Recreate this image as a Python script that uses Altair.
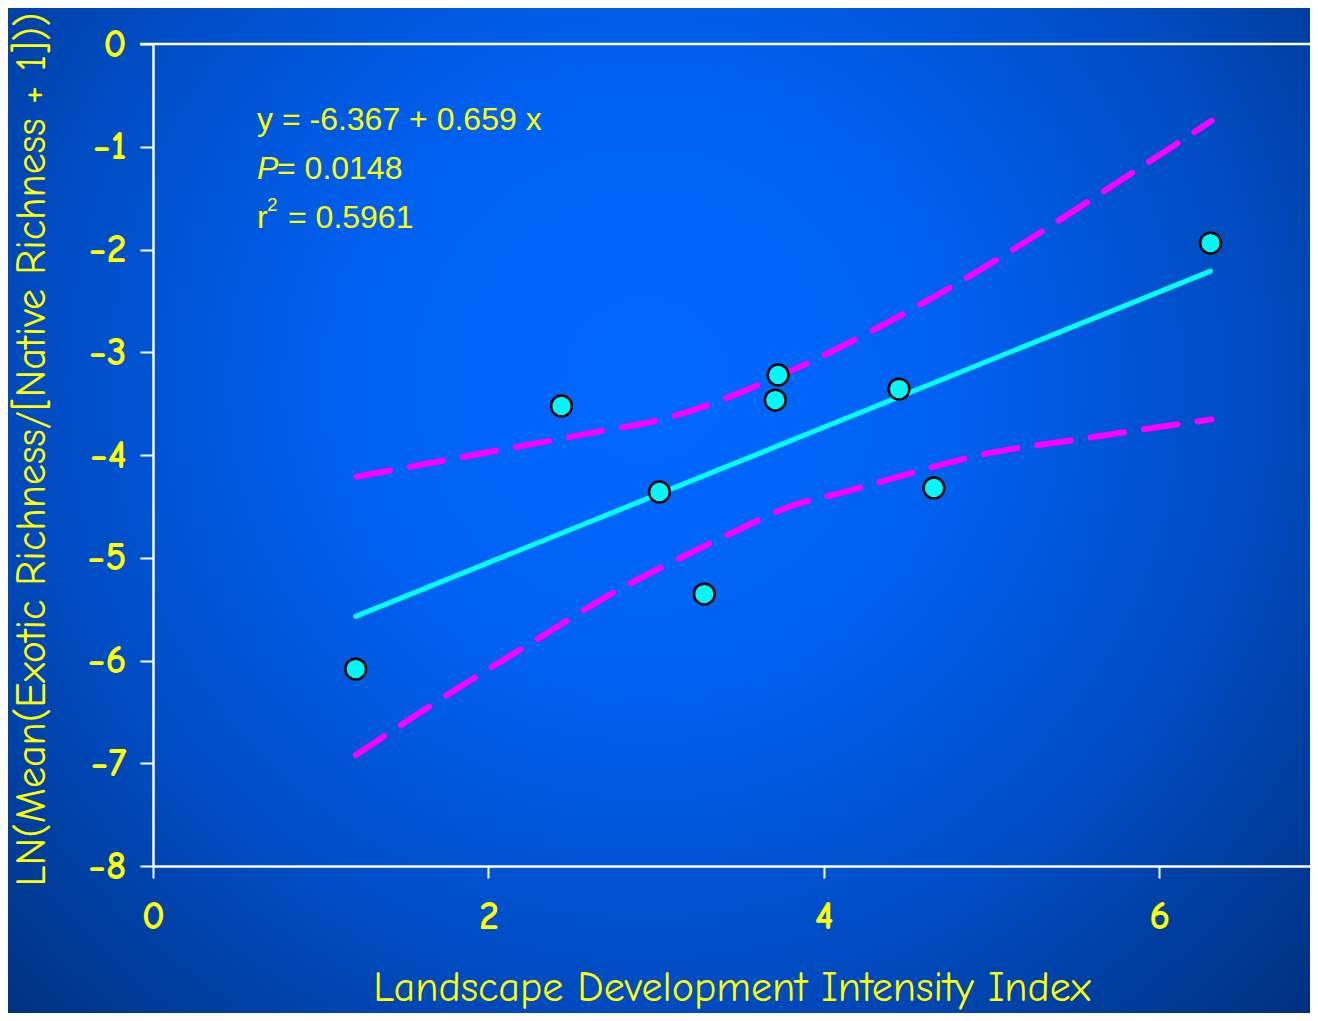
import altair as alt
import pandas as pd

# Observed sites
ldi = [1.209, 2.436, 3.020, 3.288, 3.711, 3.728, 4.449, 4.657, 6.307]
ln_ratio = [-6.083, -3.523, -4.360, -5.353, -3.465, -3.221, -3.358, -4.321, -1.937]

# Fitted regression line (end points)
fit_x = [1.209, 6.307]
fit_y = [-5.570, -2.211]

# Upper 95% confidence band
upper_x = [1.213, 1.489, 2.662, 3.020, 3.734, 4.449, 5.045, 5.599, 6.313]
upper_y = [-4.211, -4.128, -3.770, -3.659, -3.231, -2.650, -2.086, -1.509, -0.747]

# Lower 95% confidence band
lower_x = [1.209, 1.489, 1.769, 2.245, 2.799, 3.079, 3.454, 3.853, 4.014, 4.747, 4.848, 5.599, 6.313]
lower_y = [-6.920, -6.618, -6.320, -5.839, -5.291, -5.055, -4.757, -4.470, -4.405, -4.075, -4.032, -3.828, -3.653]

x_ticks = [0, 2, 4, 6]
y_ticks = [0, -1, -2, -3, -4, -5, -6, -7, -8]

W, H = 1157, 822
PAD = {"left": 145, "top": 36, "right": 0, "bottom": 147}

pts = pd.DataFrame({"x": ldi, "y": ln_ratio})
fit = pd.DataFrame({"x": fit_x, "y": fit_y})
up = pd.DataFrame({"x": upper_x, "y": upper_y})
lo = pd.DataFrame({"x": lower_x, "y": lower_y})

xs = alt.Scale(domain=[0, 6.9], nice=False, zero=False)
ys = alt.Scale(domain=[-8, 0], nice=False, zero=False)

YEL = "#FFFF00"
AXFONT = "Comic Sans MS, Comic Neue, Lato, sans-serif"

gradient = alt.RadialGradient(
    gradient="radial",
    x1=0.49, y1=0.40, r1=0.0,
    x2=0.49, y2=0.40, r2=0.72,
    stops=[
        alt.GradientStop(offset=0.0, color="#0068FF"),
        alt.GradientStop(offset=0.3, color="#0062F4"),
        alt.GradientStop(offset=0.65, color="#004CC2"),
        alt.GradientStop(offset=1.0, color="#002F78"),
    ],
)

bg = alt.Chart(pd.DataFrame({"a": [0]})).mark_rect(fill=gradient, strokeWidth=0).encode(
    x=alt.value(-PAD["left"]), x2=alt.value(W + PAD["right"]),
    y=alt.value(-PAD["top"]), y2=alt.value(H + PAD["bottom"]),
)

base_x = alt.X(
    "x:Q", scale=xs,
    axis=alt.Axis(
        values=x_ticks, title="Landscape Development Intensity Index",
        grid=False, domainColor="white", domainWidth=2.5, tickColor="white",
        tickWidth=2, tickSize=12, labelColor=YEL, labelFont=AXFONT,
        labelFontSize=40, labelFontWeight="bold", labelPadding=18, labelFlush=False,
        titleColor=YEL, titleFont=AXFONT, titleFontSize=42,
        titleFontWeight="normal", titlePadding=31, format="d", zindex=1,
    ),
)
base_y = alt.Y(
    "y:Q", scale=ys,
    axis=alt.Axis(
        values=y_ticks, title="LN(Mean(Exotic Richness/[Native Richness + 1]))",
        grid=False, domainColor="white", domainWidth=2.5, tickColor="white",
        tickWidth=2, tickSize=13, labelColor=YEL, labelFont=AXFONT,
        labelFontSize=40, labelFontWeight="bold", labelPadding=14, labelFlush=False,
        titleColor=YEL, titleFont=AXFONT, titleFontSize=42,
        titleFontWeight="normal", titleX=-100, titleY=H / 2 - 6, format="d", zindex=1,
    ),
)

top_rule = alt.Chart(pd.DataFrame({"y": [0]})).mark_rule(color="white", strokeWidth=2.5).encode(
    y=base_y, x=alt.value(-13), x2=alt.value(W + PAD["right"]),
)

dash = dict(color="#FF00FF", strokeWidth=6, strokeDash=[34, 20], strokeCap="round", interpolate="monotone")
upper = alt.Chart(up).mark_line(**dash).encode(x=base_x, y=alt.Y("y:Q", scale=ys))
lower = alt.Chart(lo).mark_line(**dash).encode(x=alt.X("x:Q", scale=xs), y=alt.Y("y:Q", scale=ys))
fitline = alt.Chart(fit).mark_line(color="#00FFFF", strokeWidth=5, strokeCap="round").encode(
    x=alt.X("x:Q", scale=xs), y=alt.Y("y:Q", scale=ys)
)
points = alt.Chart(pts).mark_point(
    shape="circle", filled=True, fill="#00F8F8", stroke="black", strokeWidth=2.5,
    size=430, opacity=1,
).encode(x=alt.X("x:Q", scale=xs), y=alt.Y("y:Q", scale=ys))

TXT = "Liberation Sans, Arial, sans-serif"
one = pd.DataFrame({"a": [0]})
FS = 32
t1 = alt.Chart(one).mark_text(text="y = -6.367 + 0.659 x", font=TXT, fontSize=FS, color=YEL,
                              align="left", baseline="alphabetic").encode(x=alt.value(104), y=alt.value(86))
t2a = alt.Chart(one).mark_text(text="P", font=TXT, fontSize=FS, fontStyle="italic", color=YEL,
                               align="left", baseline="alphabetic").encode(x=alt.value(104), y=alt.value(135))
t2b = alt.Chart(one).mark_text(text="= 0.0148", font=TXT, fontSize=FS, color=YEL,
                               align="left", baseline="alphabetic").encode(x=alt.value(124), y=alt.value(135))
t3a = alt.Chart(one).mark_text(text="r", font=TXT, fontSize=FS, color=YEL,
                               align="left", baseline="alphabetic").encode(x=alt.value(104), y=alt.value(184))
t3b = alt.Chart(one).mark_text(text="2", font=TXT, fontSize=19, color=YEL,
                               align="left", baseline="alphabetic").encode(x=alt.value(114), y=alt.value(167))
t3c = alt.Chart(one).mark_text(text="= 0.5961", font=TXT, fontSize=FS, color=YEL,
                               align="left", baseline="alphabetic").encode(x=alt.value(135), y=alt.value(184))

chart = alt.layer(
    bg, top_rule, upper, lower, fitline, points, t1, t2a, t2b, t3a, t3b, t3c
).properties(
    width=W, height=H, padding=PAD,
    autosize=alt.AutoSizeParams(type="none"),
    background="#0048B0",
).configure_view(stroke=None)

chart.save("out.html", embed_options={"renderer": "svg", "actions": False})
